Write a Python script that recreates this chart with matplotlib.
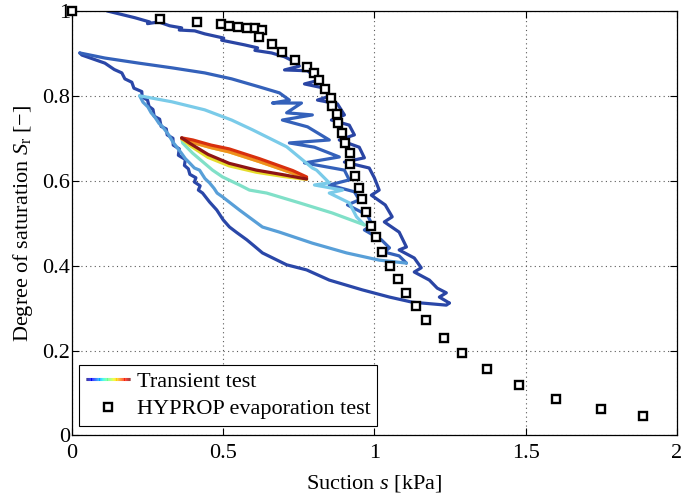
import numpy as np
import matplotlib
matplotlib.use("Agg")
import matplotlib.pyplot as plt
from matplotlib.collections import LineCollection
from matplotlib.legend_handler import HandlerBase

plt.rcParams['font.family'] = 'Liberation Serif'
plt.rcParams['mathtext.fontset'] = 'custom'
plt.rcParams['mathtext.rm'] = 'Liberation Serif'
plt.rcParams['mathtext.it'] = 'Liberation Serif:italic'

# HYPROP evaporation test
hyprop_s = [0.0, 0.290, 0.413, 0.492, 0.518, 0.548, 0.578, 0.607, 0.627, 0.620,
            0.660, 0.696, 0.736, 0.776, 0.799, 0.818, 0.838, 0.858, 0.861, 0.878,
            0.881, 0.894, 0.904, 0.921, 0.921, 0.937, 0.950, 0.960, 0.974, 0.990,
            1.007, 1.026, 1.053, 1.079, 1.106, 1.139, 1.172, 1.231, 1.290, 1.373,
            1.479, 1.601, 1.749, 1.888]
hyprop_sr = [1.0, 0.981, 0.974, 0.969, 0.965, 0.962, 0.960, 0.960, 0.955, 0.939,
             0.922, 0.903, 0.885, 0.868, 0.854, 0.837, 0.816, 0.795, 0.776, 0.757,
             0.736, 0.713, 0.689, 0.665, 0.640, 0.611, 0.583, 0.557, 0.526, 0.493,
             0.467, 0.432, 0.399, 0.369, 0.336, 0.305, 0.272, 0.230, 0.194, 0.157,
             0.119, 0.086, 0.062, 0.046]

# transient test, read branch by branch (in time order)
dry1_s = [0.116, 0.208, 0.257, 0.250, 0.287, 0.323, 0.363, 0.355, 0.406, 0.439,
          0.502, 0.495, 0.571, 0.614, 0.605, 0.660, 0.703, 0.736, 0.752, 0.703,
          0.779, 0.818, 0.769, 0.835, 0.851, 0.812, 0.878, 0.901, 0.858, 0.917,
          0.934, 0.884, 0.950, 0.967, 0.901, 0.983, 1.000, 1.016, 0.990, 1.036,
          1.059, 1.033, 1.082, 1.106, 1.082, 1.132, 1.155, 1.132, 1.182, 1.208,
          1.238, 1.215, 1.248]
dry1_sr = [1.000, 0.984, 0.974, 0.970, 0.974, 0.965, 0.960, 0.955, 0.953, 0.946,
           0.936, 0.931, 0.920, 0.913, 0.907, 0.901, 0.892, 0.880, 0.870, 0.861,
           0.859, 0.837, 0.828, 0.818, 0.799, 0.790, 0.781, 0.755, 0.743, 0.731,
           0.708, 0.696, 0.679, 0.654, 0.644, 0.630, 0.607, 0.578, 0.566, 0.543,
           0.515, 0.503, 0.479, 0.444, 0.437, 0.418, 0.395, 0.385, 0.366, 0.347,
           0.336, 0.326, 0.312]

wet1_s = [1.248, 1.238, 1.125, 1.050, 0.960, 0.851, 0.776, 0.710, 0.630, 0.600,
          0.578, 0.545, 0.521, 0.500, 0.479, 0.455, 0.432, 0.418, 0.424, 0.405,
          0.410, 0.390, 0.385, 0.372, 0.375, 0.352, 0.355, 0.335, 0.334, 0.315,
          0.312, 0.295, 0.290, 0.272, 0.268, 0.255, 0.250, 0.232, 0.231, 0.205,
          0.198, 0.175, 0.165, 0.140, 0.109, 0.033, 0.026]
wet1_sr = [0.312, 0.307, 0.314, 0.326, 0.343, 0.366, 0.390, 0.402, 0.430, 0.448,
           0.461, 0.478, 0.491, 0.508, 0.531, 0.550, 0.571, 0.578, 0.588, 0.597,
           0.607, 0.615, 0.628, 0.636, 0.650, 0.660, 0.675, 0.684, 0.700, 0.708,
           0.722, 0.728, 0.745, 0.752, 0.768, 0.775, 0.790, 0.797, 0.810, 0.818,
           0.832, 0.840, 0.854, 0.862, 0.877, 0.896, 0.901]

dry2_s = [0.026, 0.109, 0.221, 0.330, 0.439, 0.528, 0.620, 0.686, 0.719, 0.663,
          0.759, 0.710, 0.795, 0.696, 0.779, 0.851, 0.719, 0.802, 0.884, 0.769,
          0.901, 0.917, 0.851, 0.934, 0.950, 0.911, 0.977, 0.993, 0.967, 1.023,
          1.050, 1.033, 1.082, 1.106]
dry2_sr = [0.901, 0.889, 0.877, 0.866, 0.854, 0.840, 0.821, 0.807, 0.790, 0.783,
           0.783, 0.760, 0.755, 0.743, 0.727, 0.696, 0.689, 0.679, 0.656, 0.642,
           0.625, 0.602, 0.590, 0.574, 0.555, 0.543, 0.519, 0.496, 0.484, 0.461,
           0.442, 0.432, 0.423, 0.406]

wet2_s = [1.106, 1.016, 0.908, 0.795, 0.686, 0.630, 0.554, 0.498, 0.480, 0.470,
          0.455, 0.440, 0.422, 0.405, 0.389, 0.375, 0.362, 0.347, 0.335, 0.320,
          0.300, 0.288, 0.274, 0.262, 0.251, 0.235, 0.224]
wet2_sr = [0.406, 0.413, 0.430, 0.453, 0.479, 0.491, 0.531, 0.562, 0.571, 0.582,
           0.595, 0.605, 0.625, 0.630, 0.642, 0.652, 0.665, 0.679, 0.690, 0.708,
           0.727, 0.735, 0.750, 0.760, 0.774, 0.785, 0.800]

dry3_s = [0.224, 0.330, 0.439, 0.528, 0.597, 0.710, 0.795, 0.809, 0.851, 0.802,
          0.895, 0.851, 0.917, 0.941, 0.960, 0.967]
dry3_sr = [0.800, 0.786, 0.767, 0.743, 0.720, 0.680, 0.630, 0.625, 0.595, 0.590,
           0.578, 0.571, 0.548, 0.515, 0.501, 0.496]

wet3_s = [0.967, 0.861, 0.752, 0.644, 0.587, 0.554, 0.498, 0.465, 0.399, 0.366, 0.363]
wet3_sr = [0.496, 0.524, 0.548, 0.571, 0.578, 0.590, 0.609, 0.625, 0.665, 0.689, 0.701]

# last small cycles
loop_dry_s = [0.363, 0.400, 0.460, 0.520, 0.620, 0.730, 0.776]
loop_wet_s = [0.776, 0.700, 0.610, 0.520, 0.450, 0.390, 0.363]
loop_dry_sr_a = [0.699, 0.690, 0.678, 0.668, 0.645, 0.618, 0.606]
loop_wet_sr_a = [0.603, 0.610, 0.620, 0.635, 0.655, 0.683, 0.699]
loop_dry_sr_b = [0.701, 0.696, 0.684, 0.675, 0.652, 0.624, 0.609]
loop_wet_sr_b = [0.604, 0.614, 0.625, 0.641, 0.662, 0.688, 0.701]

x_ticks = [0, 0.5, 1, 1.5, 2]
x_ticklabels = ['0', '0.5', '1', '1.5', '2']
y_ticks = [0, 0.2, 0.4, 0.6, 0.8, 1]
y_ticklabels = ['0', '0.2', '0.4', '0.6', '0.8', '1']

branches = [
    (dry1_s, dry1_sr, '#2a45a4'),
    (wet1_s, wet1_sr, '#2a47a8'),
    (dry2_s, dry2_sr, '#3461ba'),
    (wet2_s, wet2_sr, '#589fd8'),
    (dry3_s, dry3_sr, '#7acbe9'),
    (wet3_s, wet3_sr, '#80e0c8'),
    (loop_dry_s, loop_dry_sr_a, '#e6dc2c'),
    (loop_wet_s, loop_wet_sr_a, '#e6dc2c'),
    (loop_dry_s, loop_dry_sr_a, '#f0901e'),
    (loop_dry_s, loop_dry_sr_b, '#d8300e'),
    (loop_wet_s, loop_wet_sr_b, '#8e1414'),
]


class GradientLine(object):
    pass


class HandlerGradient(HandlerBase):
    def create_artists(self, legend, orig_handle, xdescent, ydescent, width, height, fontsize, trans):
        xs = np.linspace(-xdescent, width - xdescent, 40)
        ys = np.full_like(xs, height / 2.0 - ydescent)
        pts = np.array([xs, ys]).T.reshape(-1, 1, 2)
        segs = np.concatenate([pts[:-1], pts[1:]], axis=1)
        lc = LineCollection(segs, cmap='jet', linewidth=2.2, transform=trans)
        lc.set_array(np.linspace(0, 1, len(segs)))
        return [lc]


fig = plt.figure(figsize=(6.85, 4.96), dpi=100)
ax = fig.add_axes([0.105, 0.122, 0.883, 0.856])

for s, sr, c in branches:
    ax.plot(s, sr, color=c, lw=2.3, solid_joinstyle='round', solid_capstyle='round')

hyp, = ax.plot(hyprop_s, hyprop_sr, 's', ms=5.5, mfc='white', mec='black', mew=1.7,
               clip_on=False, zorder=5)

ax.set_xlim(0, 2)
ax.set_ylim(0, 1)
ax.set_xticks(x_ticks)
ax.set_xticklabels(x_ticklabels)
ax.set_yticks(y_ticks)
ax.set_yticklabels(y_ticklabels)
ax.tick_params(direction='in', top=True, right=True, length=5, width=0.8, labelsize=16)
ax.tick_params(axis='x', pad=6)
ax.tick_params(axis='y', pad=1.5)
ax.grid(True, linestyle=(0, (1, 3)), color='0.35', lw=0.8)
for sp in ax.spines.values():
    sp.set_linewidth(0.9)

ax.set_xlabel('Suction $s$ [kPa]', fontsize=16, labelpad=7)
ax.set_ylabel('Degree of saturation $S_\\mathrm{r}$ [\u2212]', fontsize=16, labelpad=5)

leg = ax.legend([GradientLine(), hyp], ['Transient test', 'HYPROP evaporation test'],
                handler_map={GradientLine: HandlerGradient()},
                loc='lower left', bbox_to_anchor=(0.012, 0.022), fontsize=16,
                fancybox=False, framealpha=1, edgecolor='black', handlelength=2.0,
                handletextpad=0.3, borderpad=0.3, labelspacing=0.3, borderaxespad=0)
leg.get_frame().set_linewidth(0.8)

fig.savefig('out.png', dpi=100)
